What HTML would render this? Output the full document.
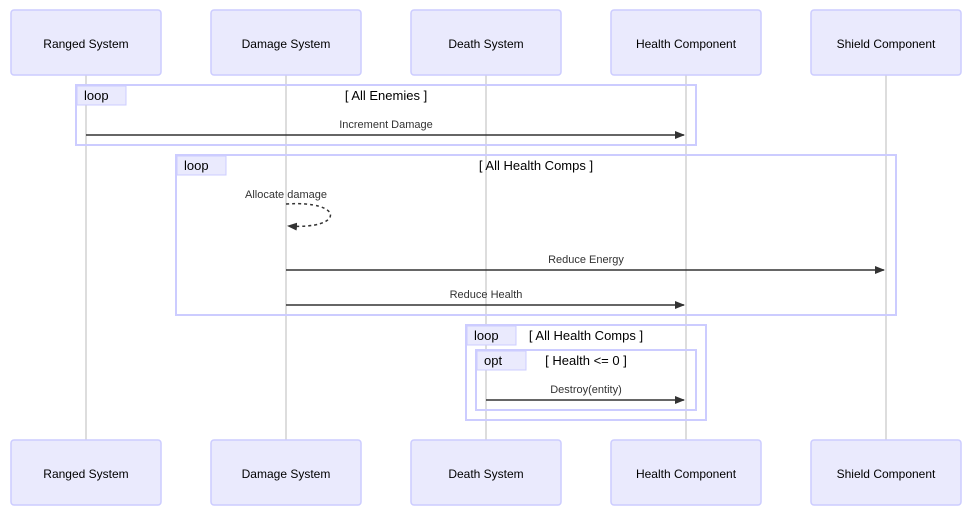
<!DOCTYPE html>
<html><head><style>body{margin:0;background:#fff}svg{display:block}text{font-family:"Liberation Sans","DejaVu Sans",sans-serif}</style></head><body>
<svg width="969" height="513" viewBox="0 0 969 513" xmlns="http://www.w3.org/2000/svg">
<defs><marker id="a" markerWidth="10" markerHeight="8" refX="9" refY="4" orient="auto" markerUnits="userSpaceOnUse"><path d="M0,0L10,4L0,8z" fill="#333"/></marker></defs>
<g stroke="#ddd" stroke-width="2">
<line x1="86" y1="75" x2="86" y2="440"/><line x1="286" y1="75" x2="286" y2="440"/><line x1="486" y1="75" x2="486" y2="440"/><line x1="686" y1="75" x2="686" y2="440"/><line x1="886" y1="75" x2="886" y2="440"/>
</g>
<g fill="#eaeafd" stroke="#ccccff" stroke-width="1.5">
<rect x="11" y="10" width="150" height="65" rx="3"/><rect x="211" y="10" width="150" height="65" rx="3"/><rect x="411" y="10" width="150" height="65" rx="3"/><rect x="611" y="10" width="150" height="65" rx="3"/><rect x="811" y="10" width="150" height="65" rx="3"/>
<rect x="11" y="440" width="150" height="65" rx="3"/><rect x="211" y="440" width="150" height="65" rx="3"/><rect x="411" y="440" width="150" height="65" rx="3"/><rect x="611" y="440" width="150" height="65" rx="3"/><rect x="811" y="440" width="150" height="65" rx="3"/>
</g>
<g font-size="12" fill="#000" text-anchor="middle">
<text x="86" y="48">Ranged System</text><text x="286" y="48">Damage System</text><text x="486" y="48">Death System</text><text x="686" y="48">Health Component</text><text x="886" y="48">Shield Component</text>
<text x="86" y="478">Ranged System</text><text x="286" y="478">Damage System</text><text x="486" y="478">Death System</text><text x="686" y="478">Health Component</text><text x="886" y="478">Shield Component</text>
</g>
<g fill="none" stroke="#ccccff" stroke-width="2">
<rect x="76" y="85" width="620" height="60"/><rect x="176" y="155" width="720" height="160"/><rect x="466" y="325" width="240" height="95"/><rect x="476" y="350" width="220" height="60"/>
</g>
<g fill="#eaeafd" stroke="#ccccff" stroke-width="1">
<rect x="77" y="86" width="49" height="19"/><rect x="177" y="156" width="49" height="19"/><rect x="467" y="326" width="49" height="19"/><rect x="477" y="351" width="49" height="19"/>
</g>
<g font-size="13" fill="#000">
<text x="84" y="100">loop</text><text x="184" y="170">loop</text><text x="474" y="340">loop</text><text x="484" y="365">opt</text>
</g>
<g font-size="13" fill="#000" text-anchor="middle">
<text x="386" y="100">[ All Enemies ]</text><text x="536" y="170">[ All Health Comps ]</text><text x="586" y="340">[ All Health Comps ]</text><text x="586" y="365">[ Health &lt;= 0 ]</text>
</g>
<g stroke="#333" stroke-width="1.5" fill="none">
<line x1="86" y1="135" x2="684" y2="135" marker-end="url(#a)"/>
<line x1="286" y1="270" x2="884" y2="270" marker-end="url(#a)"/>
<line x1="286" y1="305" x2="684" y2="305" marker-end="url(#a)"/>
<line x1="486" y1="400" x2="684" y2="400" marker-end="url(#a)"/>
<path d="M286,204 C345,200 345,230 288,226" stroke-dasharray="3,3" marker-end="url(#a)"/>
</g>
<g font-size="11" fill="#333" text-anchor="middle">
<text x="386" y="128">Increment Damage</text><text x="286" y="198">Allocate damage</text><text x="586" y="263">Reduce Energy</text><text x="486" y="298">Reduce Health</text><text x="586" y="393">Destroy(entity)</text>
</g>
</svg>
</body></html>
